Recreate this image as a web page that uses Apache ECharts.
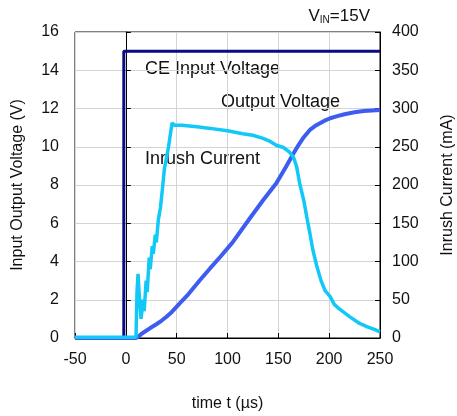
<!DOCTYPE html>
<html><head><meta charset="utf-8">
<script src="https://cdn.jsdelivr.net/npm/echarts@6/dist/echarts.min.js"></script>
<style>html,body{margin:0;padding:0;background:#fff}#c{width:457px;height:416px}</style>
</head><body><div id="c"></div>
<script>
// time (µs) ticks and axis ranges
const xTicks = [-50, 0, 50, 100, 150, 200, 250];
const leftTicks = [0, 2, 4, 6, 8, 10, 12, 14, 16];
const rightTicks = [0, 50, 100, 150, 200, 250, 300, 350, 400];

// CE Input Voltage (V)
const ceT = [-50, -2, -2, 250];
const ceV = [0, 0, 15, 15];

// Output Voltage (V)
const outT = [-50, 10, 12, 15, 20, 24, 30, 35, 40, 45, 53, 60, 73, 83, 93, 105, 122, 135, 148, 157, 165, 170, 175, 181, 186, 190, 195, 201, 208, 215, 225, 234, 250];
const outV = [0, 0, 0.05, 0.2, 0.38, 0.52, 0.72, 0.9, 1.11, 1.35, 1.81, 2.2, 3.03, 3.65, 4.25, 5.0, 6.26, 7.2, 8.09, 8.9, 9.66, 10.1, 10.5, 10.88, 11.08, 11.2, 11.35, 11.49, 11.6, 11.7, 11.8, 11.87, 11.92];

// Inrush Current (mA)
const inT = [-50, 10, 11, 12, 13, 15, 16, 17, 18, 20, 21, 23, 24, 26, 27, 29, 30, 32, 34, 36, 38, 40, 42, 44, 45.5, 48, 55, 70, 83, 100, 115, 125, 135, 142, 148, 155, 161, 165, 168, 171, 175, 178, 181, 184, 188, 192, 196, 201, 205, 210, 220, 230, 237, 245, 250];
const inI = [1, 1, 60, 84, 60, 25, 23, 50, 35, 75, 60, 105, 90, 120, 110, 135, 125, 155, 170, 195, 222, 235, 250, 268, 281, 278, 278, 276, 274, 271, 267, 265, 261, 257, 252, 249, 243, 236, 224, 202, 180, 158, 137, 115, 93, 75, 62, 54, 44, 38, 28, 19, 15, 11, 8];

const pairs = (a, b) => a.map((v, i) => [v, b[i]]);
const F = 'Liberation Sans, Arial, sans-serif';

const chart = echarts.init(document.getElementById('c'));
chart.setOption({
  animation: false,
  title: {
    text: '{a|V}{b|IN}{a|=15V}',
    right: 82, top: 2,
    textStyle: { fontWeight: 'normal', rich: {
      a: { fontFamily: F, fontSize: 17, color: '#111', fontWeight: 'normal' },
      b: { fontFamily: F, fontSize: 10, color: '#111', fontWeight: 'normal', verticalAlign: 'bottom', padding: [8, 0, 0, 0] }
    } }
  },
  grid: { left: 75, right: 77, top: 32, bottom: 78, containLabel: false, outerBoundsMode: 'none', show: true, borderColor: '#000', borderWidth: 1 },
  xAxis: {
    type: 'value', min: xTicks[0], max: xTicks[xTicks.length - 1], interval: 50,
    name: 'time t (µs)', nameLocation: 'middle', nameGap: 58,
    nameTextStyle: { fontFamily: F, fontSize: 16, color: '#111' },
    axisLine: { lineStyle: { color: '#000' } },
    axisTick: { inside: true, length: 5, lineStyle: { color: '#000' } },
    axisLabel: { fontFamily: F, fontSize: 16, color: '#111', margin: 14 },
    splitLine: { show: true, lineStyle: { color: '#d4d4d4' } }
  },
  yAxis: [{
    type: 'value', min: leftTicks[0], max: leftTicks[leftTicks.length - 1], interval: 2,
    name: 'Input Output Voltage (V)', nameLocation: 'middle', nameGap: 49, nameRotate: 90,
    nameTextStyle: { fontFamily: F, fontSize: 16, color: '#111' },
    axisLine: { show: true, lineStyle: { color: '#000' } },
    axisTick: { show: true, inside: true, length: 5, lineStyle: { color: '#000' } },
    axisLabel: { fontFamily: F, fontSize: 16, color: '#111', margin: 16 },
    splitLine: { show: true, lineStyle: { color: '#d4d4d4' } }
  }, {
    type: 'value', min: rightTicks[0], max: rightTicks[rightTicks.length - 1], interval: 50,
    name: 'Inrush Current (mA)', nameLocation: 'middle', nameGap: 60, nameRotate: 90,
    nameTextStyle: { fontFamily: F, fontSize: 16, color: '#111' },
    axisLine: { show: true, lineStyle: { color: '#000' } },
    axisTick: { show: true, inside: true, length: 5, lineStyle: { color: '#000' } },
    axisLabel: { fontFamily: F, fontSize: 16, color: '#111', margin: 12 },
    splitLine: { show: false }
  }],
  series: [{
    name: 'CE Input Voltage', type: 'line', yAxisIndex: 0, showSymbol: false,
    data: pairs(ceT, ceV), lineStyle: { color: '#0a0a82', width: 3 }, z: 3
  }, {
    name: 'Output Voltage', type: 'line', yAxisIndex: 0, showSymbol: false,
    data: pairs(outT, outV), lineStyle: { color: '#3d5cf0', width: 4 }, z: 4
  }, {
    name: 'Inrush Current', type: 'line', yAxisIndex: 1, showSymbol: false,
    data: pairs(inT, inI), lineStyle: { color: '#12c8f6', width: 3.5 }, z: 5
  }],
  graphic: [
    { type: 'text', left: 145, top: 60, style: { text: 'CE Input Voltage', font: '18px ' + F, fill: '#111' } },
    { type: 'text', left: 221, top: 93, style: { text: 'Output Voltage', font: '18px ' + F, fill: '#111' } },
    { type: 'text', left: 145, top: 150, style: { text: 'Inrush Current', font: '18px ' + F, fill: '#111' } }
  ]
});
</script></body></html>
